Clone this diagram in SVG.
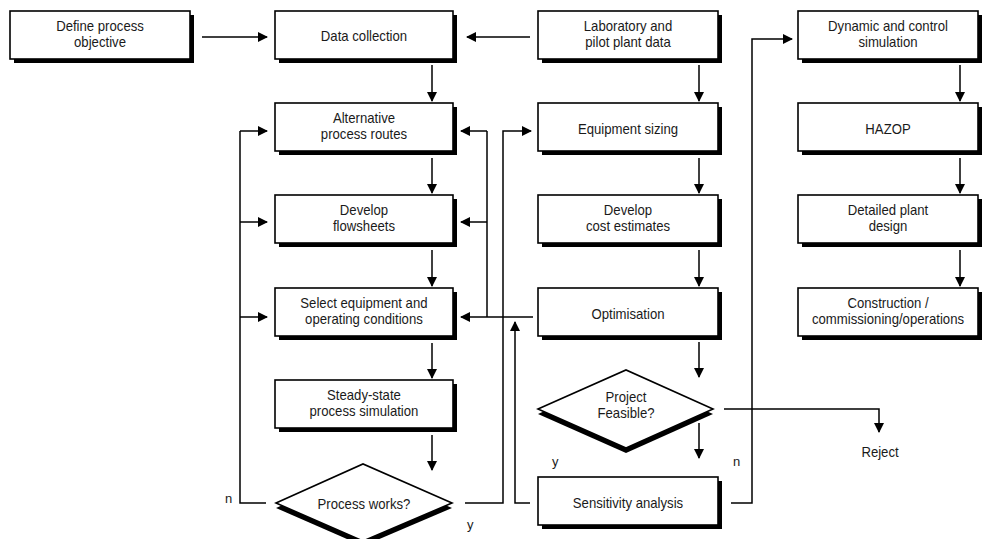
<svg xmlns="http://www.w3.org/2000/svg" width="990" height="539" viewBox="0 0 990 539">
<style>
.sh{fill:#000}
.bx{fill:#fff;stroke:#000;stroke-width:1.6}
.t{font-family:"Liberation Sans",Arial,sans-serif;font-size:14px;fill:#1a1a1a;text-anchor:middle}
.l{font-family:"Liberation Sans",Arial,sans-serif;font-size:13px;fill:#1a1a1a}
.c{fill:none;stroke:#000;stroke-width:1.5}
.a{fill:none;stroke:#000;stroke-width:1.5;marker-end:url(#ah)}
</style>
<defs>
<marker id="ah" viewBox="0 0 10 10" refX="9" refY="5" markerWidth="10" markerHeight="10" markerUnits="userSpaceOnUse" orient="auto">
<path d="M0,0 L10,5 L0,10 Z" fill="#000"/>
</marker>
</defs>
<rect width="990" height="539" fill="#fff"/>
<g id="connectors">
<line class="a" x1="202" y1="37" x2="267" y2="37"/>
<line class="a" x1="530" y1="37" x2="467" y2="37"/>
<line class="a" x1="432" y1="65" x2="432" y2="101"/>
<line class="a" x1="432" y1="158" x2="432" y2="193"/>
<line class="a" x1="432" y1="250" x2="432" y2="286"/>
<line class="a" x1="432" y1="343" x2="432" y2="378"/>
<line class="a" x1="432" y1="435" x2="432" y2="470"/>
<polyline class="c" points="266,503 240,503 240,131"/>
<line class="a" x1="240" y1="131" x2="267" y2="131"/>
<line class="a" x1="240" y1="222" x2="267" y2="222"/>
<line class="a" x1="240" y1="317" x2="267" y2="317"/>
<line class="a" x1="533" y1="317" x2="461" y2="317"/>
<line class="c" x1="487" y1="317" x2="487" y2="131"/>
<line class="a" x1="487" y1="131" x2="461" y2="131"/>
<line class="a" x1="487" y1="222" x2="461" y2="222"/>
<polyline class="a" points="465,503 503,503 503,131 531,131"/>
<polyline class="a" points="530,503 515,503 515,322"/>
<line class="a" x1="699" y1="65" x2="699" y2="101"/>
<line class="a" x1="699" y1="158" x2="699" y2="193"/>
<line class="a" x1="699" y1="250" x2="699" y2="286"/>
<line class="a" x1="699" y1="342" x2="699" y2="377"/>
<line class="a" x1="699" y1="423" x2="699" y2="458"/>
<polyline class="a" points="724,409 879,409 879,432"/>
<polyline class="a" points="731,503 752,503 752,39 792,39"/>
<line class="a" x1="960" y1="65" x2="960" y2="101"/>
<line class="a" x1="960" y1="158" x2="960" y2="193"/>
<line class="a" x1="960" y1="250" x2="960" y2="286"/>
</g>
<g id="define">
<rect class="sh" x="14" y="15" width="180" height="48"/>
<rect class="bx" x="10" y="11" width="180" height="48"/>
<text class="t" transform="scale(0.94,1)" x="106.4" y="31">Define process</text>
<text class="t" transform="scale(0.94,1)" x="106.4" y="47">objective</text>
</g>
<g id="data">
<rect class="sh" x="279" y="15" width="178" height="48"/>
<rect class="bx" x="275" y="11" width="178" height="48"/>
<text class="t" transform="scale(0.94,1)" x="387.2" y="41">Data collection</text>
</g>
<g id="lab">
<rect class="sh" x="542" y="15" width="180" height="48"/>
<rect class="bx" x="538" y="11" width="180" height="48"/>
<text class="t" transform="scale(0.94,1)" x="668.1" y="31">Laboratory and</text>
<text class="t" transform="scale(0.94,1)" x="668.1" y="47">pilot plant data</text>
</g>
<g id="dynamic">
<rect class="sh" x="802" y="15" width="180" height="48"/>
<rect class="bx" x="798" y="11" width="180" height="48"/>
<text class="t" transform="scale(0.94,1)" x="944.7" y="31">Dynamic and control</text>
<text class="t" transform="scale(0.94,1)" x="944.7" y="47">simulation</text>
</g>
<g id="alt">
<rect class="sh" x="279" y="107" width="178" height="48"/>
<rect class="bx" x="275" y="103" width="178" height="48"/>
<text class="t" transform="scale(0.94,1)" x="387.2" y="123">Alternative</text>
<text class="t" transform="scale(0.94,1)" x="387.2" y="139">process routes</text>
</g>
<g id="equip">
<rect class="sh" x="542" y="107" width="180" height="48"/>
<rect class="bx" x="538" y="103" width="180" height="48"/>
<text class="t" transform="scale(0.94,1)" x="668.1" y="134">Equipment sizing</text>
</g>
<g id="hazop">
<rect class="sh" x="802" y="107" width="180" height="48"/>
<rect class="bx" x="798" y="103" width="180" height="48"/>
<text class="t" transform="scale(0.94,1)" x="944.7" y="134">HAZOP</text>
</g>
<g id="flowsheets">
<rect class="sh" x="279" y="199" width="178" height="48"/>
<rect class="bx" x="275" y="195" width="178" height="48"/>
<text class="t" transform="scale(0.94,1)" x="387.2" y="215">Develop</text>
<text class="t" transform="scale(0.94,1)" x="387.2" y="231">flowsheets</text>
</g>
<g id="cost">
<rect class="sh" x="542" y="199" width="180" height="48"/>
<rect class="bx" x="538" y="195" width="180" height="48"/>
<text class="t" transform="scale(0.94,1)" x="668.1" y="215">Develop</text>
<text class="t" transform="scale(0.94,1)" x="668.1" y="231">cost estimates</text>
</g>
<g id="detailed">
<rect class="sh" x="802" y="199" width="180" height="48"/>
<rect class="bx" x="798" y="195" width="180" height="48"/>
<text class="t" transform="scale(0.94,1)" x="944.7" y="215">Detailed plant</text>
<text class="t" transform="scale(0.94,1)" x="944.7" y="231">design</text>
</g>
<g id="select">
<rect class="sh" x="279" y="292" width="178" height="48"/>
<rect class="bx" x="275" y="288" width="178" height="48"/>
<text class="t" transform="scale(0.94,1)" x="387.2" y="308">Select equipment and</text>
<text class="t" transform="scale(0.94,1)" x="387.2" y="324">operating conditions</text>
</g>
<g id="optimisation">
<rect class="sh" x="542" y="292" width="180" height="48"/>
<rect class="bx" x="538" y="288" width="180" height="48"/>
<text class="t" transform="scale(0.94,1)" x="668.1" y="319">Optimisation</text>
</g>
<g id="construction">
<rect class="sh" x="802" y="292" width="180" height="48"/>
<rect class="bx" x="798" y="288" width="180" height="48"/>
<text class="t" transform="scale(0.94,1)" x="944.7" y="308">Construction /</text>
<text class="t" transform="scale(0.94,1)" x="944.7" y="324">commissioning/operations</text>
</g>
<g id="steady">
<rect class="sh" x="279" y="384" width="178" height="48"/>
<rect class="bx" x="275" y="380" width="178" height="48"/>
<text class="t" transform="scale(0.94,1)" x="387.2" y="400">Steady-state</text>
<text class="t" transform="scale(0.94,1)" x="387.2" y="416">process simulation</text>
</g>
<g id="works">
<polygon class="sh" points="276,508 363,469 452,508 363,546"/>
<polygon class="bx" points="276,503 363,464 452,503 363,541"/>
<text class="t" transform="scale(0.94,1)" x="387.2" y="509">Process works?</text>
<text class="l" x="225" y="503">n</text>
<text class="l" x="467" y="529">y</text>
</g>
<g id="feasible">
<polygon class="sh" points="538,414 626,375 713,414 626,453"/>
<polygon class="bx" points="538,409 626,370 713,409 626,448"/>
<text class="t" transform="scale(0.94,1)" x="666" y="402">Project</text>
<text class="t" transform="scale(0.94,1)" x="666" y="418">Feasible?</text>
<text class="l" x="552" y="466">y</text>
<text class="l" x="733" y="466">n</text>
</g>
<g id="sensitivity">
<rect class="sh" x="542" y="481" width="180" height="48"/>
<rect class="bx" x="538" y="477" width="180" height="48"/>
<text class="t" transform="scale(0.94,1)" x="668.1" y="508">Sensitivity analysis</text>
</g>
<g id="reject">
<text class="t" transform="scale(0.94,1)" x="936.2" y="457">Reject</text>
</g>
</svg>
